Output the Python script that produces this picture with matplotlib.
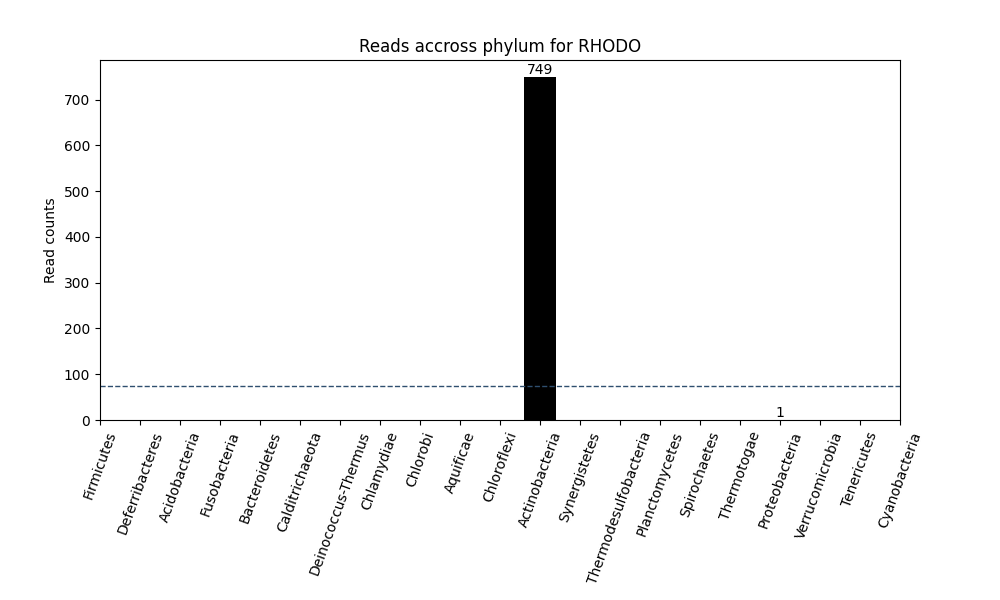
import matplotlib.pyplot as plt

phyla = ['Firmicutes', 'Deferribacteres', 'Acidobacteria', 'Fusobacteria', 'Bacteroidetes',
         'Calditrichaeota', 'Deinococcus-Thermus', 'Chlamydiae', 'Chlorobi', 'Aquificae',
         'Chloroflexi', 'Actinobacteria', 'Synergistetes', 'Thermodesulfobacteria',
         'Planctomycetes', 'Spirochaetes', 'Thermotogae', 'Proteobacteria',
         'Verrucomicrobia', 'Tenericutes', 'Cyanobacteria']
counts = [0, 0, 0, 0, 0, 0, 0, 0, 0, 0, 0, 749, 0, 0, 0, 0, 0, 1, 0, 0, 0]
threshold = 74.9

fig, ax = plt.subplots(figsize=(10, 6), dpi=100)
fig.subplots_adjust(left=0.1, right=0.9, top=0.9, bottom=0.3)

x = list(range(len(phyla)))
bars = ax.bar(x, counts, width=0.8, color='black')
for b, c in zip(bars, counts):
    if c > 0:
        ax.text(b.get_x() + b.get_width() / 2, c, str(c), ha='center', va='bottom')

ax.axhline(threshold, color='#2f4f6f', linestyle='--', linewidth=1)
ax.set_xlim(0, len(phyla) - 1)
ax.set_ylim(0, 749 * 1.05)
ax.set_xticks(x)
ax.set_xticklabels(phyla, rotation=70, ha='center')
ax.set_ylabel('Read counts')
ax.set_title('Reads accross phylum for RHODO')

plt.savefig('out.png')
